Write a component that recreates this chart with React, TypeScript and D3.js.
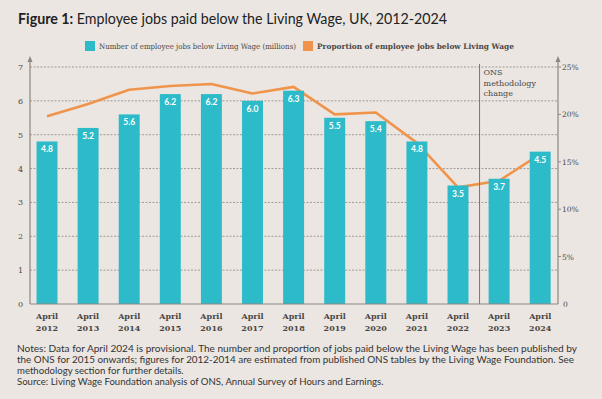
import React from "react";
import * as d3 from "d3";

const years = ["2012","2013","2014","2015","2016","2017","2018","2019","2020","2021","2022","2023","2024"];
const jobsMillions = [4.8, 5.2, 5.6, 6.2, 6.2, 6.0, 6.3, 5.5, 5.4, 4.8, 3.5, 3.7, 4.5];
const proportionPct = [19.8, 21.1, 22.6, 23.0, 23.2, 22.2, 22.9, 20.0, 20.2, 17.0, 12.3, 13.0, 15.8];
const leftTicks = [0, 1, 2, 3, 4, 5, 6, 7];
const rightTicks = [0, 5, 10, 15, 20, 25];
const titleBold = "Figure 1:";
const titleRest = " Employee jobs paid below the Living Wage, UK, 2012-2024";
const legendLabels = ["Number of employee jobs below Living Wage (millions)", "Proportion of employee jobs below Living Wage"];
const annotationLines = ["ONS", "methodology", "change"];
const noteLines = [
  "Notes: Data for April 2024 is provisional. The number and proportion of jobs paid below the Living Wage has been published by",
  "the ONS for 2015 onwards; figures for 2012-2014 are estimated from published ONS tables by the Living Wage Foundation. See",
  "methodology section for further details.",
  "Source: Living Wage Foundation analysis of ONS, Annual Survey of Hours and Earnings.",
];

const BG = "#ebe6e2";
const TEAL = "#2dbbc9";
const ORANGE = "#f0944c";
const AXIS = "#8c8784";
const GRID = "#a09b98";
const TEXT = "#4a4644";
const SERIF = "'DejaVu Serif', 'Liberation Serif', serif";
const SANS = "Lato, 'Open Sans', sans-serif";

export default function App() {
  const W = 602, H = 399;
  const xLeft = 30, xRight = 558, yBottom = 304, yTop = 67;
  const x = d3.scaleBand<string>().domain(years).range([26.45, 560.75]).paddingInner(0.49).paddingOuter(0.245);
  const yL = d3.scaleLinear().domain([0, 7]).range([yBottom, yTop]);
  const yR = d3.scaleLinear().domain([0, 25]).range([yBottom, yTop]);
  const bw = x.bandwidth();
  const cx = (y: string) => (x(y) as number) + bw / 2;
  const line = d3.line<number>().x((_, i) => cx(years[i])).y((d) => yR(d));
  const onsX = ((x("2022") as number) + bw + (x("2023") as number)) / 2 + 1;

  return (
    <div style={{ position: "absolute", left: 0, top: 0 }}>
      <svg width={W} height={H} style={{ display: "block" }}>
        <rect x={0} y={0} width={W} height={H} fill={BG} />
        <text x={18} y={24} fontFamily={SANS} fontSize={15.5} fill="#222" textLength={429} lengthAdjust="spacingAndGlyphs">
          <tspan fontWeight={700}>{titleBold}</tspan>
          <tspan>{titleRest}</tspan>
        </text>

        {/* legend */}
        <rect x={85} y={41} width={10} height={10} fill={TEAL} />
        <text x={99} y={49} fontFamily={SERIF} fontSize={7.6} fill={TEXT} textLength={197} lengthAdjust="spacingAndGlyphs">{legendLabels[0]}</text>
        <rect x={303} y={41} width={10} height={10} fill={ORANGE} />
        <text x={317} y={49} fontFamily={SERIF} fontSize={7.6} fontWeight={700} fill={TEXT} textLength={197} lengthAdjust="spacingAndGlyphs">{legendLabels[1]}</text>

        {/* gridlines */}
        {leftTicks.filter((t) => t > 0).map((t) => (
          <line key={t} x1={xLeft} x2={xRight} y1={yL(t)} y2={yL(t)} stroke={GRID} strokeWidth={1} strokeDasharray="2,1.5" />
        ))}

        {/* proportion line (behind bars) */}
        <path d={line(proportionPct) || ""} fill="none" stroke={ORANGE} strokeWidth={2.6} strokeLinejoin="round" />

        {/* bars */}
        {years.map((y, i) => (
          <rect key={y} x={x(y)} y={yL(jobsMillions[i])} width={bw} height={yBottom - yL(jobsMillions[i])} fill={TEAL} />
        ))}
        {years.map((y, i) => (
          <text key={y} x={cx(y)} y={yL(jobsMillions[i]) + 11} textAnchor="middle" fontFamily={SANS} fontWeight={700} fontSize={8.5} fill="#ffffff">
            {jobsMillions[i].toFixed(1)}
          </text>
        ))}

        {/* ONS methodology line */}
        <line x1={onsX} x2={onsX} y1={64} y2={yBottom} stroke="#7a7573" strokeWidth={1} />
        {annotationLines.map((t, i) => (
          <text key={t} x={onsX + 4} y={75 + i * 10.5} fontFamily={SERIF} fontSize={8} fill={TEXT}>{t}</text>
        ))}

        {/* axes */}
        <line x1={xLeft} x2={xLeft} y1={58} y2={yBottom} stroke={AXIS} strokeWidth={1.2} />
        <path d={`M${xLeft - 2.5},${62} L${xLeft},${56} L${xLeft + 2.5},${62} Z`} fill={AXIS} />
        <line x1={xRight} x2={xRight} y1={58} y2={yBottom} stroke={AXIS} strokeWidth={1.2} />
        <path d={`M${xRight - 2.5},${62} L${xRight},${56} L${xRight + 2.5},${62} Z`} fill={AXIS} />
        <line x1={xLeft} x2={xRight} y1={yBottom} y2={yBottom} stroke={AXIS} strokeWidth={1.2} />

        {leftTicks.map((t) => (
          <text key={t} x={23} y={yL(t) + 3} textAnchor="end" fontFamily={SERIF} fontSize={8} fill={TEXT}>{t}</text>
        ))}
        {rightTicks.map((t) => (
          <g key={t}>
            {t > 0 && <line x1={xRight} x2={xRight + 3} y1={yR(t)} y2={yR(t)} stroke={AXIS} strokeWidth={1} />}
            <text x={t === 0 ? 563 : 562} y={yR(t) + 3} fontFamily={SERIF} fontSize={7.5} fill={TEXT}>{t === 0 ? "0" : `${t}%`}</text>
          </g>
        ))}

        {years.map((y) => (
          <g key={y}>
            <text x={cx(y)} y={319} textAnchor="middle" fontFamily={SERIF} fontWeight={700} fontSize={8} fill={TEXT}>April</text>
            <text x={cx(y)} y={331} textAnchor="middle" fontFamily={SERIF} fontWeight={700} fontSize={8} fill={TEXT}>{y}</text>
          </g>
        ))}

        {noteLines.map((t, i) => (
          <text key={i} x={17} y={352 + i * 11} fontFamily={SANS} fontSize={9.6} fill="#333"
            textLength={i === 0 ? 560 : i === 1 ? 557 : undefined} lengthAdjust="spacingAndGlyphs">{t}</text>
        ))}
      </svg>
    </div>
  );
}
